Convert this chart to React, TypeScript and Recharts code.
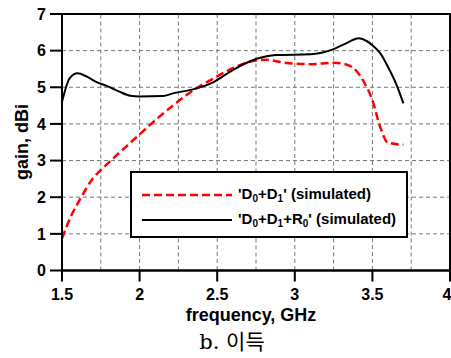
import {
  LineChart,
  Line,
  XAxis,
  YAxis,
  CartesianGrid,
  ReferenceLine,
  ReferenceArea,
  Legend,
} from "recharts";

const freqTicks = [1.5, 2, 2.5, 3, 3.5, 4];
const minorFreqs = [1.75, 2.25, 2.75, 3.25, 3.75];
const gainTicks = [0, 1, 2, 3, 4, 5, 6, 7];

const seriesNames = ["'D0+D1' (simulated)", "'D0+D1+R0' (simulated)"];

// D0+D1, red dashed
const redFreq = [1.5, 1.56, 1.62, 1.7, 1.75, 1.83, 1.96, 2.09, 2.22, 2.35, 2.48, 2.6, 2.75, 2.82, 2.92, 3.1, 3.25, 3.34, 3.4, 3.45, 3.5, 3.55, 3.6, 3.7];
const redGain = [0.88, 1.5, 1.97, 2.52, 2.74, 3.06, 3.56, 4.06, 4.52, 4.93, 5.25, 5.52, 5.73, 5.75, 5.68, 5.63, 5.67, 5.61, 5.43, 5.11, 4.65, 3.92, 3.49, 3.43];

// D0+D1+R0, black solid
const blackFreq = [1.5, 1.55, 1.6, 1.66, 1.72, 1.8, 1.87, 1.94, 2.0, 2.15, 2.22, 2.35, 2.48, 2.6, 2.75, 2.88, 3.1, 3.25, 3.34, 3.41, 3.44, 3.5, 3.55, 3.6, 3.66, 3.7];
const blackGain = [4.6, 5.25, 5.38, 5.29, 5.15, 5.02, 4.88, 4.77, 4.75, 4.76, 4.84, 4.95, 5.15, 5.47, 5.77, 5.88, 5.9, 6.04, 6.22, 6.34, 6.31, 6.15, 5.93, 5.56, 5.02, 4.56];

const redData = redFreq.map((f, i) => ({ freq: f, gain: redGain[i] }));
const blackData = blackFreq.map((f, i) => ({ freq: f, gain: blackGain[i] }));

const font = "'Liberation Sans', Arial, sans-serif";
const tickStyle = { fontSize: 16, fontWeight: "bold", fill: "#000", fontFamily: font };

function withSubs(name: string) {
  const parts = name.split(/([DR]\d)/);
  return parts.map((p, i) =>
    /^[DR]\d$/.test(p) ? (
      <span key={i}>
        {p[0]}
        <sub style={{ fontSize: 10, verticalAlign: "-3px" }}>{p[1]}</sub>
      </span>
    ) : (
      <span key={i}>{p}</span>
    )
  );
}

function LegendBox(props: any) {
  const items = (props.payload || []) as any[];
  return (
    <div
      style={{
        boxSizing: "border-box",
        width: 278,
        height: 67,
        border: "2px solid #000",
        background: "#fff",
        paddingTop: 9,
        fontFamily: font,
        fontWeight: "bold",
        fontSize: 15,
      }}
    >
      {items.map((it, i) => (
        <div key={i} style={{ display: "flex", alignItems: "center", height: 25 }}>
          <svg width={98} height={10} style={{ marginLeft: 8 }}>
            <line
              x1={2}
              x2={92}
              y1={5}
              y2={5}
              stroke={it.color}
              strokeWidth={i === 0 ? 2.5 : 2}
              strokeDasharray={i === 0 ? "8 4" : undefined}
            />
          </svg>
          <span>{withSubs(it.value)}</span>
        </div>
      ))}
    </div>
  );
}

export default function App() {
  return (
    <div style={{ position: "absolute", left: 0, top: 0, width: 451, height: 358, background: "#fff" }}>
      <LineChart width={451} height={358} margin={{ top: 14, right: 1, left: 0, bottom: 0 }}>
        <CartesianGrid stroke="#777" strokeDasharray="4 3" />
        {minorFreqs.map((f) => (
          <ReferenceLine key={f} x={f} stroke="#777" strokeDasharray="4 3" />
        ))}
        <XAxis
          dataKey="freq"
          type="number"
          domain={[1.5, 4]}
          ticks={freqTicks}
          allowDuplicatedCategory={false}
          height={87.5}
          tickSize={11}
          tickMargin={7}
          tick={tickStyle}
          axisLine={{ stroke: "#000", strokeWidth: 2 }}
          tickLine={{ stroke: "#000", strokeWidth: 2 }}
        />
        <YAxis
          type="number"
          domain={[0, 7]}
          ticks={gainTicks}
          width={62}
          tickSize={12}
          tickMargin={4}
          tick={tickStyle}
          axisLine={{ stroke: "#000", strokeWidth: 2 }}
          tickLine={{ stroke: "#000", strokeWidth: 2 }}
        />
        <ReferenceArea x1={1.5} x2={4} y1={0} y2={7} fill="none" stroke="#000" strokeWidth={2} />
        <Line
          data={redData}
          dataKey="gain"
          name={seriesNames[0]}
          type="monotone"
          stroke="#ff0000"
          strokeWidth={2.5}
          strokeDasharray="8 4"
          dot={false}
          isAnimationActive={false}
        />
        <Line
          data={blackData}
          dataKey="gain"
          name={seriesNames[1]}
          type="monotone"
          stroke="#000"
          strokeWidth={2}
          dot={false}
          isAnimationActive={false}
        />
        <Legend
          layout="horizontal"
          verticalAlign="middle"
          align="center"
          content={LegendBox}
          wrapperStyle={{ left: 130, top: 171, width: 278, height: 67 }}
        />
      </LineChart>
      <div
        style={{
          position: "absolute",
          left: 22,
          top: 142,
          transform: "translate(-50%, -50%) rotate(-90deg)",
          fontFamily: font,
          fontWeight: "bold",
          fontSize: 18,
          whiteSpace: "nowrap",
        }}
      >
        gain, dBi
      </div>
      <div
        style={{
          position: "absolute",
          left: 251,
          top: 315,
          transform: "translate(-50%, -50%)",
          fontFamily: font,
          fontWeight: "bold",
          fontSize: 18,
          whiteSpace: "nowrap",
        }}
      >
        frequency, GHz
      </div>
      <div
        style={{
          position: "absolute",
          left: 232,
          top: 340,
          transform: "translate(-50%, -50%)",
          fontFamily: "'DejaVu Serif', 'Noto Sans CJK KR', serif",
          fontSize: 21,
          whiteSpace: "nowrap",
        }}
      >
        b. 이득
      </div>
    </div>
  );
}
